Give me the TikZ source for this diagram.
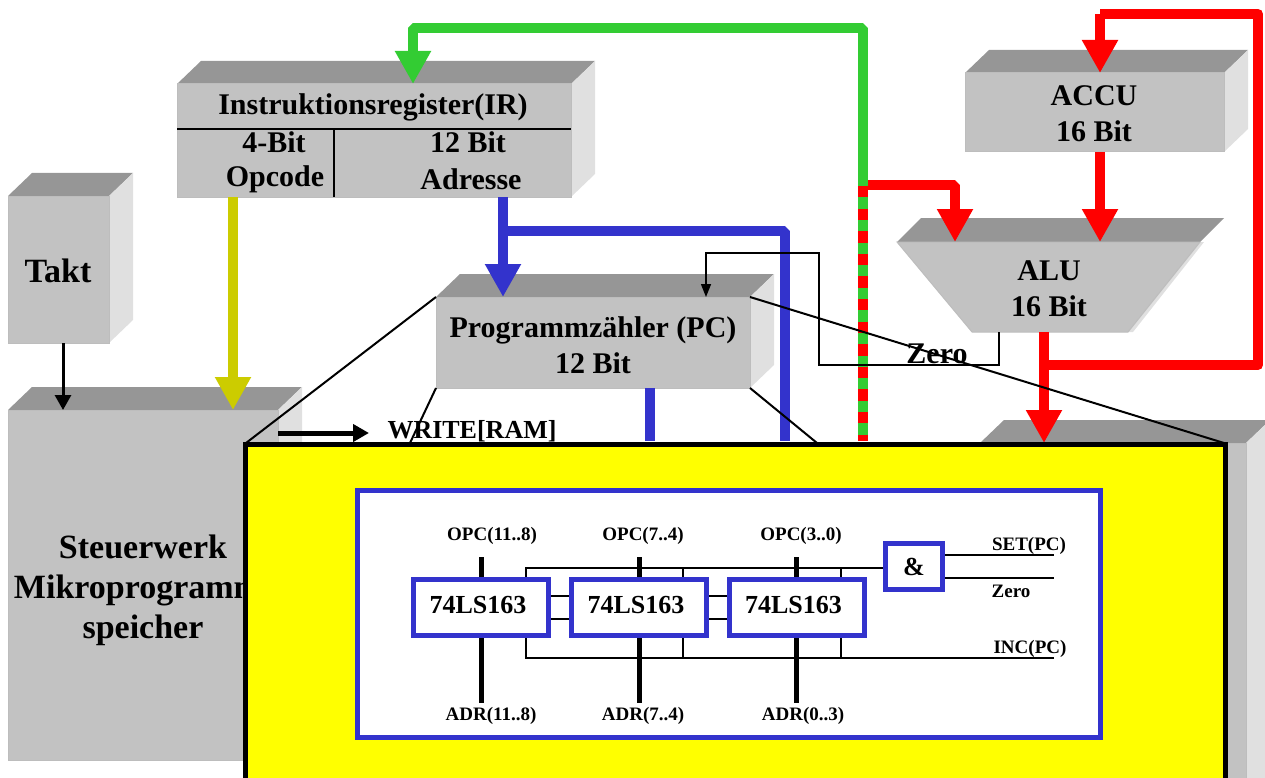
\documentclass[tikz,border=0pt]{standalone}
\usepackage{fontspec}
\setmainfont{Liberation Serif}
\usetikzlibrary{arrows.meta}
\definecolor{rot}{HTML}{FF0000}
\definecolor{gruen}{HTML}{33CC33}
\definecolor{blau}{HTML}{3333CC}
\definecolor{oliv}{HTML}{CCCC00}
\definecolor{gelb}{HTML}{FFFF00}
\definecolor{vorn}{HTML}{C2C2C2}
\definecolor{oben}{HTML}{969696}
\definecolor{seite}{HTML}{E0E0E0}
\tikzset{
  front/.style={draw=black!26,fill=vorn,line width=1pt,inner sep=0pt,outer sep=0pt},
  gross/.style={font=\bfseries\fontsize{30}{36}\selectfont,align=center},
  riesig/.style={font=\bfseries\fontsize{34}{40}\selectfont,align=center},
  mittel/.style={font=\bfseries\fontsize{26}{30}\selectfont},
  klein/.style={font=\bfseries\fontsize{19}{22}\selectfont},
  bus/.style={line width=10pt,line join=bevel},
  kopf/.style={-{Triangle[length=33pt,width=34pt]}},
  duenn/.style={line width=1.5pt,draw=black},
  leitung/.style={line width=2pt,draw=black},
  stummel/.style={line width=5pt,draw=black},
  zaehler/.style={draw=blau,fill=white,line width=5pt,inner sep=0pt,outer sep=2.5pt,minimum width=135pt,minimum height=56pt,mittel},
}
\newcommand{\quader}[5]{
  \fill[oben] (#2,#3) -- (#2+24,#3-23) -- (#4+24,#3-23) -- (#4,#3) -- cycle;
  \fill[seite] (#4,#3) -- (#4+24,#3-23) -- (#4+24,#5-23) -- (#4,#5) -- cycle;
  \node[front,minimum width=#4pt-#2pt,minimum height=#5pt-#3pt] (#1) at ({(#2+#4)/2},{(#3+#5)/2}) {};
}
\newcommand{\zaehlertext}{\raisebox{5pt}{\hspace*{-6pt}74LS163}}

\begin{document}
\begin{tikzpicture}[x=1pt,y=-1pt]

\clip (0,0) rectangle (1265,778);

\quader{takt}{8}{196}{109}{343}
\quader{ir}{177}{84}{571}{197}
\quader{pc}{436}{297}{750}{388}
\quader{accu}{965}{73}{1224}{152}
\quader{steuer}{8}{410}{278}{760}
\quader{ram}{980}{443}{1246}{800}

\node[riesig] (takttext) at (58,271) {Takt};
\node[riesig] (steuertext) at (143,590) {Steuerwerk\\\hspace*{-10pt}Mikroprogramm\\speicher};
\node[gross] (pctext) at (593,345) {Programmzähler (PC)\\12 Bit};
\node[gross] (accutext) at (1094,114) {ACCU\\16 Bit};

\node[gross] (irtext) at (373,107) {Instruktionsregister(IR)};
\node[gross] (bit4) at (274,142) {4-Bit};
\node[gross] (opcode) at (275,179) {Opcode};
\node[gross] (bit12) at (468,142) {12 Bit};
\node[gross] (adresse) at (471,179) {Adresse};
\coordinate (irlinks) at (177,129);
\coordinate (irrechts) at (571,129);
\coordinate (irmitte) at (334,129);
\draw[leitung] (irlinks)--(irrechts);
\draw[leitung] (irmitte)--(irmitte |- ir.south);

\coordinate (aluoben) at (1048,242);
\coordinate (aluunten) at (1050,332);
\fill[oben] (897,242)--(921,218)--(1224,218)--(1200,242)--cycle;
\fill[seite] (1200,242)--(1204,242)--(1133,332)--(1128,332)--cycle;
\fill[vorn,draw=black!26,line width=1pt] (897,242)--(1200,242)--(1128,332)--(972,332)--cycle;
\node[gross] (alu) at (1049,289) {ALU\\16 Bit};

\node[font=\bfseries\fontsize{30}{36}\selectfont] (zero) at (937,354) {Zero};
\node[font=\bfseries\fontsize{26}{30}\selectfont] (write) at (472,431) {WRITE[RAM]};

% Busse
\coordinate (gabel) at (863,186);
\draw[bus,gruen,kopf] (863,441)--(863,28)--(413,28)--(413,28 |- ir.north);
\draw[bus,rot,dash pattern=on 11.3pt off 11.3pt] (gabel)--(863,441);
\draw[bus,rot,kopf] (868,185)--(955,185)--(955,185 |- aluoben);
\draw[bus,rot,kopf] (accu.south -| 1100,0)--(1100,0 |- aluoben);
\draw[bus,rot,kopf] (aluunten -| 1044,0)--(1044,0 |- ram.north);
\draw[bus,rot,line join=round] (1044,365)--(1258,365)--(1258,14)--(1100,14);
\draw[bus,rot,kopf] (1100,14)--(1100,0 |- accu.north);
\draw[bus,blau,kopf] (ir.south -| 503,0)--(503,0 |- pc.north);
\draw[bus,blau] (503,231)--(785,231)--(785,441);
\draw[bus,blau] (pc.south -| 650,0)--(650,441);
\draw[bus,oliv,kopf] (ir.south -| 233,0)--(233,0 |- steuer.north);
\draw[line width=3pt,-{Triangle[length=15pt,width=16pt]}] (takt.south -| 63,0)--(63,0 |- steuer.north);
\draw[line width=5pt,-{Triangle[length=16pt,width=17pt]}] (278,433)--(369,433);
\draw[duenn,-{Triangle[length=13pt,width=10pt]}] (aluunten -| 999,0)--(999,365)--(819,365)--(819,253)--(706,253)--(706,0 |- pc.north);

\draw[leitung] (pc.north west)--(246,443);
\draw[leitung] (pc.north east)--(1224,443);
\draw[leitung] (pc.south west)--(410,443);
\draw[leitung] (pc.south east)--(817,443);

% Ausschnitt
\node[draw=black,fill=gelb,line width=5pt,inner sep=0pt,minimum width=980pt,minimum height=400pt] (lupe) at (735,644) {};
\node[draw=blau,fill=white,line width=5pt,inner sep=0pt,minimum width=743pt,minimum height=247pt] (panel) at (728.5,613.5) {};

\node[zaehler] (ca) at (481,607.5) {\zaehlertext};
\node[zaehler] (cb) at (639,607.5) {\zaehlertext};
\node[zaehler] (cc) at (796.5,607.5) {\zaehlertext};
\node[draw=blau,fill=white,line width=5pt,inner sep=0pt,outer sep=2.5pt,minimum width=57pt,minimum height=46pt,mittel] (und) at (914,566.5) {\&};

\node[klein] (opca) at (492,536) {OPC(11..8)};
\node[klein] (opcb) at (643,536) {OPC(7..4)};
\node[klein] (opcc) at (801,536) {OPC(3..0)};
\node[klein] (adra) at (491,716) {ADR(11..8)};
\node[klein] (adrb) at (643,716) {ADR(7..4)};
\node[klein] (adrc) at (803,716) {ADR(0..3)};
\node[klein] (setpc) at (1029,546) {SET(PC)};
\node[klein] (nullflag) at (1011,591) {Zero};
\node[klein] (incpc) at (1030,649) {INC(PC)};

\coordinate (seta) at (1054,555);
\coordinate (zeroa) at (1054,578);
\coordinate (inca) at (1054,658);

\draw[stummel] (481,557)--(ca.north);
\draw[stummel] (639,557)--(cb.north);
\draw[stummel] (796.5,557)--(cc.north);
\draw[stummel] (ca.south)--(481,703);
\draw[stummel] (cb.south)--(639,703);
\draw[stummel] (cc.south)--(796.5,703);

\draw[leitung] (und.west |- 0,568)--(526,568)--(526,0 |- ca.north);
\draw[leitung] (683,568)--(683,0 |- cb.north);
\draw[leitung] (841,568)--(841,0 |- cc.north);
\draw[leitung] (inca)--(526,658)--(526,0 |- ca.south);
\draw[leitung] (683,658)--(683,0 |- cb.south);
\draw[leitung] (841,658)--(841,0 |- cc.south);

\draw[leitung] (ca.east |- 0,596)--(cb.west |- 0,596);
\draw[leitung] (ca.east |- 0,619)--(cb.west |- 0,619);
\draw[leitung] (cb.east |- 0,596)--(cc.west |- 0,596);
\draw[leitung] (cb.east |- 0,619)--(cc.west |- 0,619);

\draw[leitung] (und.east |- seta)--(seta);
\draw[leitung] (und.east |- zeroa)--(zeroa);

\end{tikzpicture}
\end{document}
